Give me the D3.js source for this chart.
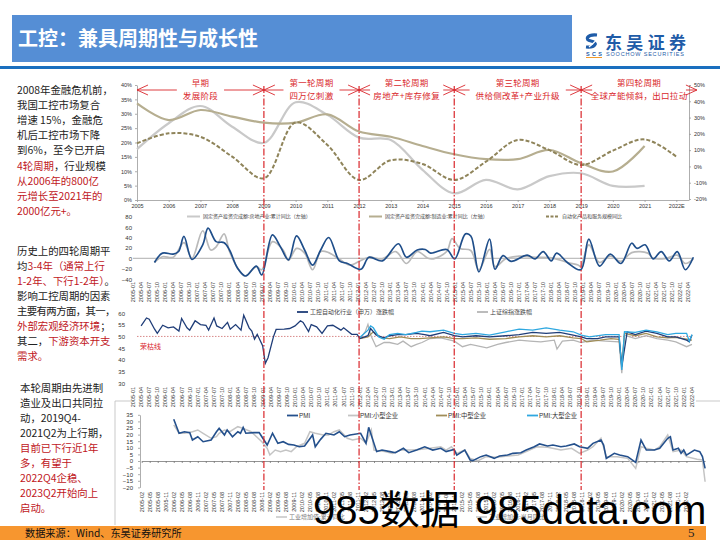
<!DOCTYPE html>
<html><head><meta charset="utf-8">
<script src="https://cdn.jsdelivr.net/npm/d3@7"></script>
<style>body{margin:0;background:#fff}svg{display:block}</style>
</head><body><svg id="c" width="720" height="540"></svg>
<script>
// ---------------- DATA ----------------
const years = [2005,2006,2007,2008,2009,2010,2011,2012,2013,2014,2015,2016,2017,2018,2019,2020,2021,2022];
const yearLabels = ["2005","2006","2007","2008","2009","2010","2011","2012","2013","2014","2015","2016","2017","2018","2019","2020","2021","2022E"];
// 固定资产投资完成额:房地产业:累计同比（左轴）2005-2021
const realEstateInv = [17.7,26.7,32.7,25.5,19.9,34,29.6,21.7,20.9,10.5,2.3,7,3.7,8.3,9.3,4.9,4.9];
// 固定资产投资完成额:制造业:累计同比（左轴）2005-2021
const manufacturingInv = [33.6,27.8,31.3,29,26.9,26.9,29.8,23.8,22,18.8,15.9,14.2,14.2,17.4,12.8,9.9,18.8];
// 自动化产品和服务规模同比（右轴）2005-2022E
const automationGrowth = [14.2,20.3,18.2,6,-7.3,27,13.2,-8.3,3.8,1.5,-8.3,2.9,16.2,10,0.9,9.7,16.6,6];
const cycleYears = [2009,2012,2015,2019];
const cycleLabels = [["早期","发展阶段"],["第一轮周期","四万亿刺激"],["第二轮周期","房地产+库存修复"],["第三轮周期","供给侧改革+产业升级"],["第四轮周期","全球产能倾斜，出口拉动"]];
const chart1Legend = ["固定资产投资完成额:房地产业:累计同比（左轴）","固定资产投资完成额:制造业:累计同比（左轴）","自动化产品和服务规模同比"];

// chart 2 (growth, quarterly labels)
const c2Navy = [["2005-09",-8],["2005-12",10],["2006-04",8],["2006-06",13],["2006-08",42],["2006-11",-2],["2007-03",26],["2007-05",58],["2007-08",32],["2007-11",30],["2008-01",16],["2008-04",-19],["2008-07",-34],["2008-11",-15],["2009-01",-32],["2009-05",45],["2009-08",22],["2009-11",-3],["2010-02",43],["2010-05",16],["2010-08",-13],["2010-11",16],["2011-02",40],["2011-06",-5],["2011-09",-10],["2012-02",-21],["2012-05",2],["2012-10",-5],["2013-04",28],["2013-07",2],["2013-11",16],["2014-02",17],["2014-04",10],["2014-10",17],["2015-01",-1],["2015-05",47],["2015-07",43],["2015-10",-26],["2016-02",37],["2016-04",-21],["2016-07",5],["2016-10",-6],["2017-04",6],["2017-07",-1],["2017-10",13],["2018-01",-5],["2018-03",10],["2018-07",-8],["2018-12",-22],["2019-03",37],["2019-07",-15],["2019-11",8],["2020-03",-10],["2020-07",29],["2020-09",19],["2020-12",26],["2021-03",-1],["2021-06",13],["2021-09",-5],["2021-12",13],["2022-03",-22],["2022-06",2]];
const c2Gray = [["2005-09",-8],["2005-12",3],["2006-04",2],["2006-08",30],["2006-11",0],["2007-03",53],["2007-06",16],["2007-08",22],["2007-11",47],["2008-01",13],["2008-05",-26],["2008-07",-34],["2008-11",-16],["2009-01",-22],["2009-05",32],["2009-09",16],["2009-11",-4],["2010-02",19],["2010-05",10],["2010-08",-22],["2010-11",13],["2011-02",11],["2011-06",-2],["2011-10",-13],["2012-02",-4],["2012-05",2],["2012-10",-1],["2013-03",13],["2013-07",-10],["2013-11",13],["2014-03",0],["2014-05",-1],["2014-10",13],["2014-12",38],["2015-03",19],["2015-07",15],["2015-10",-22],["2016-02",17],["2016-04",-16],["2016-08",-1],["2017-01",4],["2017-07",2],["2018-02",0],["2018-07",-8],["2018-11",-13],["2018-12",-16],["2019-03",26],["2019-07",-8],["2019-11",4],["2020-03",-6],["2020-07",11],["2021-01",10],["2021-03",0],["2021-08",0],["2021-12",6],["2022-03",-10],["2022-06",-1]];

// chart 3 (index around 50)
const c3Navy = [["2005-04",54.5],["2005-06",57.9],["2005-07",57.4],["2005-09",53.1],["2005-10",51.3],["2005-12",54.8],["2006-02",53.7],["2006-04",54.1],["2006-06",52.3],["2006-07",57.7],["2006-09",53.7],["2006-10",52.7],["2006-12",56.7],["2007-02",55.1],["2007-04",54.8],["2007-05",52.7],["2007-07",57.9],["2007-08",54.5],["2007-10",53.4],["2007-12",56],["2008-01",53.1],["2008-03",55.1],["2008-05",52.7],["2008-06",59.1],["2008-08",53.7],["2008-09",52.3],["2008-10",48.8],["2008-11",50.9],["2009-01",46],["2009-02",38.5],["2009-03",40.9],["2009-05",49.8],["2009-06",53],["2009-09",53.1],["2009-11",53.4],["2010-01",54.5],["2010-03",56.7],["2010-04",56],["2010-06",52.1],["2010-07",55.1],["2010-09",54.1],["2010-11",51.3],["2011-01",54.5],["2011-03",54.8],["2011-06",52.7],["2011-07",53.7],["2011-10",50.9],["2011-12",50.9],["2012-01",49.1],["2012-04",50.3],["2012-05",53.4],["2012-07",50.6],["2012-10",49.4],["2012-12",50.3],["2013-03",50.8],["2013-06",50.8],["2013-10",51.3],["2014-01",50.8],["2014-03",50.3],["2014-08",51.7],["2014-12",50.3],["2015-03",49.8],["2015-08",50.3],["2016-01",49.8],["2016-07",50.3],["2016-12",50.8],["2017-05",51.7],["2017-10",51.3],["2018-03",51.7],["2018-08",50.6],["2018-11",49.8],["2019-01",49.1],["2019-05",49.1],["2019-08",49.8],["2020-01",49.8],["2020-02",37.0],["2020-04",52.0],["2020-07",50.8],["2020-11",52.3],["2021-03",51.3],["2021-07",49.8],["2021-10",49.8],["2022-02",48.4],["2022-03",47.7],["2022-04",50.6]];
const c3Cyan = [["2012-01",49.5],["2012-04",52.7],["2012-05",54.5],["2012-06",53.7],["2012-08",49.8],["2012-10",48.8],["2012-12",50.8],["2013-03",51.3],["2013-06",50.8],["2013-10",51.7],["2013-12",52.3],["2014-03",52.0],["2014-08",52.7],["2014-12",51.3],["2015-03",50.8],["2015-08",51.3],["2016-01",50.6],["2016-07",52.0],["2016-12",53.1],["2017-05",52.7],["2017-10",53.7],["2018-03",52.7],["2018-08",52.0],["2018-11",50.6],["2019-02",49.8],["2019-08",50.8],["2020-01",50.8],["2020-02",35.6],["2020-03",52.0],["2020-07",51.7],["2020-11",52.7],["2021-03",52.0],["2021-07",50.8],["2021-10",51.3],["2022-02",51.3],["2022-03",48.0],["2022-04",50.8]];
const c3Khaki = [["2012-01",49.1],["2012-04",49.8],["2012-06",52.0],["2012-09",49.4],["2012-12",49.1],["2013-04",49.8],["2013-08",49.1],["2013-11",49.1],["2014-03",49.4],["2014-08",49.8],["2014-12",49.1],["2015-03",49.1],["2015-08",49.4],["2016-01",48.8],["2016-07",49.1],["2016-12",49.8],["2017-05",50.3],["2017-10",49.8],["2018-03",50.3],["2018-08",49.4],["2018-11",49.1],["2019-01",47.7],["2019-06",48.4],["2019-10",49.1],["2020-01",48.8],["2020-02",37.7],["2020-03",51.3],["2020-07",50.3],["2020-11",51.3],["2021-03",49.8],["2021-07",49.4],["2021-10",49.6],["2022-02",48.8],["2022-04",48.4]];
const c3Gray = [["2012-01",49.1],["2012-03",52.0],["2012-04",55.1],["2012-05",50.6],["2012-07",45.6],["2012-10",47.4],["2012-12",47.4],["2013-03",46.6],["2013-05",48.0],["2013-08",45.6],["2013-10",46.6],["2013-12",47.4],["2014-03",49.1],["2014-07",49.4],["2014-12",48.0],["2015-03",45.6],["2015-06",46.6],["2015-12",45.1],["2016-04",46.6],["2016-07",47.4],["2016-12",48.4],["2017-04",48.0],["2017-08",47.7],["2018-01",48.4],["2018-02",44.6],["2018-04",48.0],["2018-08",48.4],["2018-11",47.4],["2019-03",48.4],["2019-08",48.0],["2020-01",47.7],["2020-02",34.2],["2020-03",50.6],["2020-07",49.1],["2020-11",50.3],["2021-03",49.1],["2021-07",48.4],["2021-10",47.7],["2022-02",45.6],["2022-04",46.6]];

// chart 4
const c4Navy = [["2006-02",31.6],["2006-04",21],["2006-06",22.2],["2006-08",21.5],["2006-09",15.9],["2006-11",18.4],["2007-01",14.6],["2007-04",15.9],["2007-06",22.2],["2007-07",24.7],["2007-09",19.7],["2007-10",23.5],["2007-12",18.4],["2008-02",22.2],["2008-03",21],["2008-04",25.5],["2008-05",21],["2008-08",21.5],["2008-10",21.5],["2008-11",18.4],["2009-01",12.1],["2009-03",21],["2009-05",13.4],["2009-07",14.6],["2009-09",12.6],["2009-11",12.1],["2010-01",10.8],["2010-03",11.4],["2010-06",19.7],["2010-07",10.8],["2010-09",16.4],["2010-11",21],["2011-02",19.7],["2011-04",22.2],["2011-06",18.4],["2011-08",19.7],["2011-12",21],["2012-02",13.4],["2012-03",25.5],["2012-06",7.1],["2012-08",8.3],["2012-11",7.1],["2013-01",6.3],["2013-04",9.6],["2013-06",6.3],["2013-09",8.3],["2013-12",10.8],["2014-03",8.3],["2014-06",9.6],["2014-08",7.1],["2014-11",8.8],["2014-12",4.5],["2015-03",8.3],["2015-05",0.8],["2015-06",0.3],["2015-09",3.3],["2015-11",4.5],["2016-02",2],["2016-04",3.8],["2016-07",4.5],["2016-09",5.8],["2016-12",6.3],["2017-02",8.3],["2017-05",10.8],["2017-07",12.9],["2017-10",11.4],["2017-12",12.1],["2018-03",10.8],["2018-05",11.4],["2018-08",12.9],["2018-10",10.8],["2019-01",9.6],["2019-03",13.4],["2019-06",15.9],["2019-07",12.1],["2019-08",2],["2019-11",5.8],["2020-01",4.5],["2020-04",3.3],["2020-07",-1],["2020-09",15.9],["2020-10",12.1],["2020-11",8.3],["2021-02",8.3],["2021-04",9.6],["2021-07",17.2],["2021-08",18.4],["2021-09",8.3],["2021-11",9.6],["2021-12",5.8],["2022-01",8.3],["2022-02",4.5],["2022-05",8.3],["2022-07",7.1],["2022-08",3.3],["2022-09",-5.6]];
const c4Gray = [["2006-02",27.3],["2006-04",21],["2006-06",21],["2006-09",22.2],["2006-11",23.5],["2007-01",21],["2007-04",17.2],["2007-06",18.4],["2007-07",21],["2007-09",23.5],["2007-11",22.2],["2008-02",26],["2008-04",24.7],["2008-07",22.2],["2008-09",18.4],["2008-11",14.6],["2009-01",9.6],["2009-02",4.5],["2009-04",8.3],["2009-06",7.1],["2009-08",8.3],["2009-10",7.1],["2009-12",10.8],["2010-03",13.4],["2010-05",22.2],["2010-07",21],["2010-10",19.7],["2010-12",19.7],["2011-02",22.2],["2011-04",23.5],["2011-07",17.2],["2011-09",15.9],["2011-12",17.2],["2012-02",13.4],["2012-04",23.5],["2012-05",8.3],["2012-09",7.1],["2012-12",5.8],["2013-03",8.3],["2013-07",8.3],["2013-10",8.8],["2014-02",9.6],["2014-06",10.8],["2014-08",8.3],["2014-10",10.8],["2014-12",5.8],["2015-03",8.3],["2015-05",2],["2015-08",0.3],["2015-11",3.3],["2016-03",2.8],["2016-07",3.8],["2016-11",4.5],["2017-02",7.1],["2017-06",10.8],["2017-10",10.4],["2018-03",8.3],["2018-07",9.6],["2018-10",5.8],["2019-01",8.3],["2019-03",10.8],["2019-06",17.2],["2019-08",3.3],["2019-12",3.3],["2020-04",2],["2020-07",-5.6],["2020-09",10.8],["2020-11",9.6],["2021-02",8.3],["2021-04",10.8],["2021-07",19.7],["2021-09",7.1],["2021-12",8.3],["2022-02",3.3],["2022-06",1.3],["2022-08",0.8],["2022-09",-15.7]];

const quarterTicksA = d3.range(2005,2023).flatMap(y=>["01","04","07","10"].map(m=>y+"-"+m)).filter(s=>s<="2022-04");
const quarterTicksB = d3.range(2005,2023).flatMap(y=>["02","05","08","11"].map(m=>y+"-"+m)).filter(s=>s<="2022-02");
const c2YTicks = [-40,-20,0,20,40,60,80];
const c3YTicks = [30,35,40,45,50,55,60];
const c4YTicks = [-20,-15,-10,-5,0,5,10,15,20,25,30,35];
const leftYTicks = [0,5,10,15,20,25,30,35,40];
const rightYTicks = [-20,-10,0,10,20,30,40,50];

// ---------------- DRAW ----------------
const svg = d3.select("#c");
const CJK = '"Noto Sans CJK SC","Noto Sans",sans-serif';
const NUM = '"Liberation Sans",Arial,"Noto Sans CJK SC",sans-serif';
const RED = "#d9262b", TRED = "#c0161c";
const parseM = s => { const [y,m] = s.split("-").map(Number); return (y-2005)*12 + (m-1); };

svg.append("rect").attr("width",720).attr("height",540).attr("fill","#fff");

// header
svg.append("rect").attr("x",12).attr("y",15).attr("width",560).attr("height",47).attr("fill","#558ed5");
svg.append("text").attr("x",18).attr("y",46).attr("font-size",20).attr("font-weight",700)
  .attr("fill","#fff").style("font-family",CJK).text("工控：兼具周期性与成长性");
svg.append("rect").attr("x",0).attr("y",66).attr("width",720).attr("height",3).attr("fill","#1a6fbf");
// logo
const lg = svg.append("g");
lg.append("path").attr("d","M597,35 C587,34 584,40 591,41 C598,42 596,48 586,47").attr("fill","none").attr("stroke","#1f5ca8").attr("stroke-width",3.2);
lg.append("path").attr("d","M601,36 L589,47").attr("stroke","#fff").attr("stroke-width",1.2);
lg.append("text").attr("x",586).attr("y",56).attr("font-size",5.5).attr("font-weight",700).attr("fill","#1f5ca8").attr("textLength",16).style("font-family",NUM).text("SCS");
lg.append("rect").attr("x",586).attr("y",57).attr("width",16).attr("height",1).attr("fill","#f39a2c");
lg.append("text").attr("x",605).attr("y",48.5).attr("font-size",17).attr("font-weight",700).attr("fill","#1f5ca8").attr("textLength",81).style("font-family",CJK).text("东吴证券");
lg.append("text").attr("x",606).attr("y",56).attr("font-size",5.5).attr("fill","#1f5ca8").attr("textLength",78).style("font-family",NUM).text("SOOCHOW SECURITIES");

// left text
function para(lines,x,y0,dy){
  lines.forEach((segs,i)=>{
    const t = svg.append("text").attr("x",x).attr("y",y0+i*dy).attr("font-size",10.4).style("font-family",CJK);
    if(segs.tight) t.attr("letter-spacing",-0.6);
    segs.forEach(([s,r])=>t.append("tspan").text(s).attr("fill",r?TRED:"#222"));
  });
}
const tight = a => { a.tight = true; return a; };
para([[["2008年金融危机前，"]],[["我国工控市场复合"]],[["增速 15%，金融危"]],[["机后工控市场下降"]],[["到6%，至今已开启"]],
  [["4轮周期",1],["，行业规模"]],[["从2006年的800亿",1]],[["元增长至2021年的",1]],[["2000亿元+。",1]]],17,94,15.1);
para([[["历史上的四轮周期平"]],[["均"],["3-4年（通常上行",1]],[["1-2年、下行1-2年）",1],["。"]],[["影响工控周期的因素"]],
  tight([["主要有两方面，其一，"]]),[["外部宏观经济环境",1],["；"]],[["其二，"],["下游资本开支",1]],[["需求。",1]]],17,255,15);
para([[["本轮周期由先进制"]],[["造业及出口共同拉"]],[["动，2019Q4-"]],[["2021Q2为上行期，"]],[["目前已下行近1年",1]],
  [["多，有望于",1]],[["2022Q4企稳、",1]],[["2023Q2开始向上",1]],[["启动。",1]]],20,392,15);

function styleAxis(g,fs,noDomain){
  g.selectAll("text").attr("font-size",fs).attr("fill","#333").style("font-family",NUM);
  g.selectAll("path,line").attr("stroke","#999").attr("stroke-width",0.8);
  if(noDomain) g.select(".domain").remove();
}

// ---------- chart 1 ----------
const x1 = d3.scaleLinear().domain([2005,2022.4]).range([137,689]);
const yL = d3.scaleLinear().domain([0,40]).range([200,85]);
const yR = d3.scaleLinear().domain([-20,50]).range([199,85]);
styleAxis(svg.append("g").attr("transform","translate(137,0)")
  .call(d3.axisLeft(yL).tickValues(leftYTicks).tickFormat(d=>d+"%").tickSize(2).tickSizeOuter(0)),5.5);
styleAxis(svg.append("g").attr("transform","translate(689,0)")
  .call(d3.axisRight(yR).tickValues(rightYTicks).tickFormat(d=>d+"%").tickSize(2).tickSizeOuter(0)),5.5);
styleAxis(svg.append("g").attr("transform","translate(0,200)")
  .call(d3.axisBottom(x1).tickValues(years).tickFormat((d,i)=>yearLabels[i]).tickSize(2).tickPadding(2).tickSizeOuter(0)),5.5);
const lineL = d3.line().x((d,i)=>x1(years[i])).y(d=>yL(d)).curve(d3.curveCatmullRom);
const lineR = d3.line().x((d,i)=>x1(years[i])).y(d=>yR(d)).curve(d3.curveCatmullRom);
svg.append("path").attr("d",lineL(realEstateInv)).attr("fill","none").attr("stroke","#c9c9c9").attr("stroke-width",2.2);
svg.append("path").attr("d",lineL(manufacturingInv)).attr("fill","none").attr("stroke","#b6ae90").attr("stroke-width",2.2);
svg.append("path").attr("d",lineR(automationGrowth)).attr("fill","none").attr("stroke","#8f845a").attr("stroke-width",2).attr("stroke-dasharray","4,2");

// chart 1 legend
[[187,"#c9c9c9",null,chart1Legend[0]],[369,"#b6ae90",null,chart1Legend[1]],[546,"#8f845a","3,1.5",chart1Legend[2]]].forEach(([x,c,da,t])=>{
  svg.append("line").attr("x1",x).attr("x2",x+13).attr("y1",216.5).attr("y2",216.5).attr("stroke",c).attr("stroke-width",2).attr("stroke-dasharray",da);
  svg.append("text").attr("x",x+16).attr("y",218.3).attr("font-size",5).attr("fill","#444").style("font-family",CJK).text(t);
});

// ---------- chart 2 ----------
const x2 = d3.scaleLinear().domain([0,207]).range([133,688]);
const y2 = d3.scaleLinear().domain([-40,80]).range([279.1,216.7]);
styleAxis(svg.append("g").attr("transform","translate(135,0)").call(d3.axisLeft(y2).tickValues(c2YTicks).tickSize(0).tickPadding(3)),6,true);
svg.append("line").attr("x1",133).attr("x2",692).attr("y1",y2(0)).attr("y2",y2(0)).attr("stroke","#9a9a9a").attr("stroke-width",0.8);
const line2 = d3.line().x(d=>x2(parseM(d[0]))).y(d=>y2(d[1])).curve(d3.curveCatmullRom);
svg.append("path").attr("d",line2(c2Gray)).attr("fill","none").attr("stroke","#bababa").attr("stroke-width",1.7);
svg.append("path").attr("d",line2(c2Navy)).attr("fill","none").attr("stroke","#1f4e8a").attr("stroke-width",1.7);
function rotLabels(ticks,xs,y){
  svg.append("g").selectAll("text").data(ticks).join("text")
    .attr("transform",d=>`translate(${xs(parseM(d))},${y}) rotate(-90)`)
    .attr("text-anchor","end").attr("dy","0.35em").attr("font-size",5.5).attr("fill","#333").style("font-family",NUM).text(d=>d);
}
rotLabels(quarterTicksA,x2,282);

// ---------- chart 3 ----------
const x3 = d3.scaleLinear().domain([0,207]).range([133,692]);
const y3 = d3.scaleLinear().domain([30,60]).range([383.1,313.1]);
styleAxis(svg.append("g").attr("transform","translate(128,0)").call(d3.axisLeft(y3).tickValues(c3YTicks).tickSize(0).tickPadding(3)),6,true);
svg.append("line").attr("x1",137).attr("x2",692).attr("y1",y3(50)).attr("y2",y3(50)).attr("stroke","#d98a8a").attr("stroke-width",1).attr("stroke-dasharray","1.5,1.5");
svg.append("text").attr("x",140).attr("y",349).attr("font-size",7).attr("fill",RED).style("font-family",CJK).text("荣枯线");
const line3 = d3.line().x(d=>x3(parseM(d[0]))).y(d=>y3(d[1]));
[[c3Gray,"#b5b5b5"],[c3Khaki,"#a08d58"],[c3Navy,"#1f3d78"],[c3Cyan,"#2fa8e0"]].forEach(([s,c])=>
  svg.append("path").attr("d",line3(s)).attr("fill","none").attr("stroke",c).attr("stroke-width",1.3));
[[297,"#1f3d78","工控自动化行业（申万）涨跌幅"],[477,"#b5b5b5","上证综指涨跌幅"]].forEach(([x,c,t])=>{
  svg.append("line").attr("x1",x).attr("x2",x+11).attr("y1",312).attr("y2",312).attr("stroke",c).attr("stroke-width",1.8);
  svg.append("text").attr("x",x+13).attr("y",314.2).attr("font-size",6).attr("fill","#444").style("font-family",CJK).text(t);
});
rotLabels(quarterTicksA,x3,387);

// ---------- chart 4 ----------
svg.append("line").attr("x1",115).attr("x2",115).attr("y1",401).attr("y2",525).attr("stroke","#bbb").attr("stroke-width",0.8);
svg.append("line").attr("x1",115).attr("x2",131).attr("y1",401).attr("y2",401).attr("stroke","#bbb").attr("stroke-width",0.8);
svg.append("line").attr("x1",696).attr("x2",720).attr("y1",401).attr("y2",401).attr("stroke","#bbb").attr("stroke-width",0.8);
const x4 = d3.scaleLinear().domain([1,212]).range([141.7,705.1]);
const y4 = d3.scaleLinear().domain([-20,35]).range([487.4,414.8]);
styleAxis(svg.append("g").attr("transform","translate(140,0)").call(d3.axisLeft(y4).tickValues(c4YTicks).tickSize(2).tickPadding(5).tickSizeOuter(0)),6);
const zAx = svg.append("g").attr("transform",`translate(0,${y4(0)})`)
  .call(d3.axisBottom(x4).tickValues(quarterTicksB.map(parseM)).tickSize(2).tickFormat("").tickSizeOuter(0));
zAx.selectAll("path,line").attr("stroke","#777").attr("stroke-width",0.8);
const line4 = d3.line().x(d=>x4(parseM(d[0]))).y(d=>y4(d[1]));
svg.append("path").attr("d",line4(c4Gray)).attr("fill","none").attr("stroke","#c4c4c4").attr("stroke-width",1.5);
svg.append("path").attr("d",line4(c4Navy)).attr("fill","none").attr("stroke","#24508c").attr("stroke-width",1.6);
rotLabels(quarterTicksB,x4,492);
[[287,"#24508c","PMI"],[348,"#c4c4c4","PMI:小型企业"],[436,"#a08d58","PMI:中型企业"],[527,"#2fa8e0","PMI:大型企业"]].forEach(([x,c,t])=>{
  svg.append("line").attr("x1",x).attr("x2",x+11).attr("y1",415.5).attr("y2",415.5).attr("stroke",c).attr("stroke-width",1.8);
  svg.append("text").attr("x",x+12).attr("y",417.8).attr("font-size",6.3).attr("fill","#333").style("font-family",NUM).text(t);
});
[[276,"工业增加值:累计同比"],[476,"工业增加值:当月同比"]].forEach(([x,t])=>{
  svg.append("line").attr("x1",x).attr("x2",x+11).attr("y1",517).attr("y2",517).attr("stroke","#c4c4c4").attr("stroke-width",1.5);
  svg.append("text").attr("x",x+13).attr("y",519).attr("font-size",6).attr("fill","#777").style("font-family",CJK).text(t);
});

// ---------- cycle annotations ----------
cycleYears.forEach(y=>svg.append("line").attr("x1",x1(y)).attr("x2",x1(y)).attr("y1",86).attr("y2",490)
  .attr("stroke",RED).attr("stroke-width",1.2).attr("stroke-dasharray","7,2,1.5,2"));
const bounds = [2005,...cycleYears,2022.65].map(x1);
function head(x,dir){
  svg.append("path").attr("d",`M${x-dir*11},${85} L${x},${90} L${x-dir*11},${95}`).attr("fill","none").attr("stroke",RED).attr("stroke-width",0.9);
}
cycleLabels.forEach((lab,i)=>{
  const a=bounds[i], b=bounds[i+1], c=(a+b)/2;
  let w=0;
  lab.forEach((t,j)=>{
    const tx=svg.append("text").attr("x",c).attr("y",83+j*13).attr("dy","0.35em").attr("text-anchor","middle")
      .attr("font-size",8.5).attr("letter-spacing",0.3).attr("fill",RED).style("font-family",CJK).text(t);
    w=Math.max(w,tx.node().getComputedTextLength());
  });
  const l=c-w/2-6, r=c+w/2+6;
  svg.append("line").attr("x1",a).attr("x2",Math.max(l,a+11)).attr("y1",90).attr("y2",90).attr("stroke",RED).attr("stroke-width",0.9);
  svg.append("line").attr("x1",Math.min(r,b-11)).attr("x2",b).attr("y1",90).attr("y2",90).attr("stroke",RED).attr("stroke-width",0.9);
  head(a,-1); head(b,1);
});

// ---------- footer ----------
svg.append("rect").attr("x",0).attr("y",526).attr("width",706).attr("height",14).attr("fill","#f7962f");
svg.append("text").attr("x",25).attr("y",536.5).attr("font-size",10.2).attr("fill","#111").style("font-family",CJK).text("数据来源：Wind、东吴证券研究所");
svg.append("text").attr("x",688).attr("y",537).attr("font-size",13).attr("fill","#222").style("font-family",'"Liberation Serif",serif').text("5");
// watermark
svg.append("text").attr("x",313).attr("y",524).attr("font-size",40).attr("fill","#000").style("font-family",NUM).text("985数据");
svg.append("text").attr("x",475).attr("y",524).attr("font-size",40).attr("fill","#000").style("font-family",NUM).text("985data.com");
</script></body></html>
